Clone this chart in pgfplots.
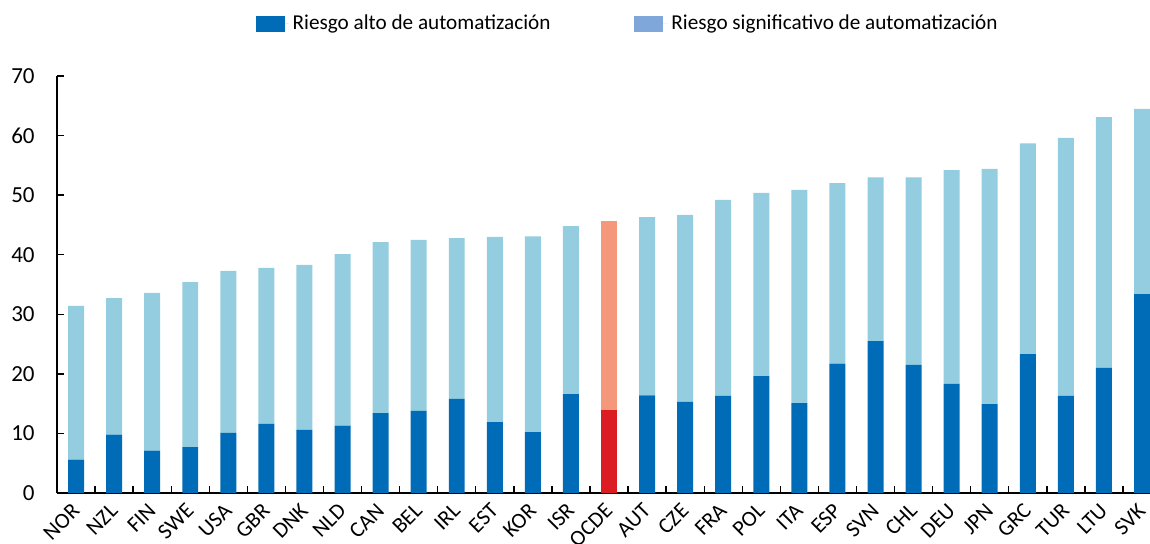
\documentclass[border=0pt]{standalone}
\usepackage{pgfplots}
\pgfplotsset{compat=1.18}
\usepackage{pgfplotstable}
\usepackage{fontspec}
\setmainfont{Carlito}
\definecolor{darkb}{HTML}{006BB6}
\definecolor{lightb}{HTML}{93CDDF}
\definecolor{legl}{HTML}{7FA7DA}
\definecolor{ocdered}{HTML}{DC1C23}
\definecolor{ocdesal}{HTML}{F4977A}
\pgfplotstableread{
x alto sig ocdea ocdeb
0 5.6 25.8 0 0
1 9.8 22.9 0 0
2 7.1 26.5 0 0
3 7.7 27.7 0 0
4 10.1 27.2 0 0
5 11.6 26.2 0 0
6 10.6 27.7 0 0
7 11.3 28.8 0 0
8 13.4 28.7 0 0
9 13.8 28.7 0 0
10 15.8 27.0 0 0
11 11.9 31.1 0 0
12 10.2 32.9 0 0
13 16.6 28.2 0 0
14 0 0 13.9 31.8
15 16.4 29.9 0 0
16 15.3 31.4 0 0
17 16.3 32.9 0 0
18 19.6 30.8 0 0
19 15.1 35.8 0 0
20 21.7 30.3 0 0
21 25.5 27.5 0 0
22 21.5 31.5 0 0
23 18.3 35.9 0 0
24 14.9 39.5 0 0
25 23.3 35.4 0 0
26 16.3 43.3 0 0
27 21.0 42.1 0 0
28 33.4 31.1 0 0
}\datatable
\begin{document}
\begin{tikzpicture}
\begin{axis}[
  at={(28.5pt,25pt)}, anchor=south west,
  scale only axis, width=546.5pt, height=208.5pt,
  ybar stacked, bar width=0.42,
  xmin=-0.5, xmax=28.21, ymin=0, ymax=70,
  axis x line=bottom, axis y line=left,
  axis line style={-, line width=1pt, black},
  tick align=inside,
  major tick length=3.5pt,
  tick style={black, line width=0.7pt},
  ytick={0,10,...,70},
  xtick={-0.5,0.5,...,27.5},
  xticklabels={},
  extra x ticks={0,...,28},
  extra x tick labels={NOR,NZL,FIN,SWE,USA,GBR,DNK,NLD,CAN,BEL,IRL,EST,KOR,ISR,OCDE,AUT,CZE,FRA,POL,ITA,ESP,SVN,CHL,DEU,JPN,GRC,TUR,LTU,SVK},
  extra x tick style={major tick length=0pt},
  /pgf/number format/assume math mode=true,
  yticklabel style={font=\fontsize{11.5}{13}\selectfont, anchor=east, inner sep=0pt, xshift=-11pt},
  xticklabel style={font=\fontsize{11}{13}\selectfont, inner sep=0pt, xshift=0pt, yshift=-7pt, rotate=45, anchor=east},
  legend columns=2,
  legend image code/.code={\fill[#1] (0pt,-4pt) rectangle (14.5pt,4pt); \path (0pt,0pt) -- (16.5pt,0pt);},
  legend style={draw=none, fill=none, font=\fontsize{10.6}{12}\selectfont,
    at={(0.523,1.125)}, anchor=center,
    /tikz/every even column/.append style={column sep=40pt}},
  clip=false,
]
\addlegendimage{fill=darkb, draw=none}
\addlegendimage{fill=legl, draw=none}
\addplot[fill=darkb, draw=none] table[x=x, y=alto] {\datatable};
\addplot[fill=lightb, draw=none] table[x=x, y=sig] {\datatable};
\addplot[fill=ocdered, draw=none] table[x=x, y=ocdea] {\datatable};
\addplot[fill=ocdesal, draw=none] table[x=x, y=ocdeb] {\datatable};
\legend{Riesgo alto de automatización, Riesgo significativo de automatización}
\end{axis}
\pgfresetboundingbox
\path (0,0) rectangle (575pt,271.5pt);
\end{tikzpicture}
\end{document}
